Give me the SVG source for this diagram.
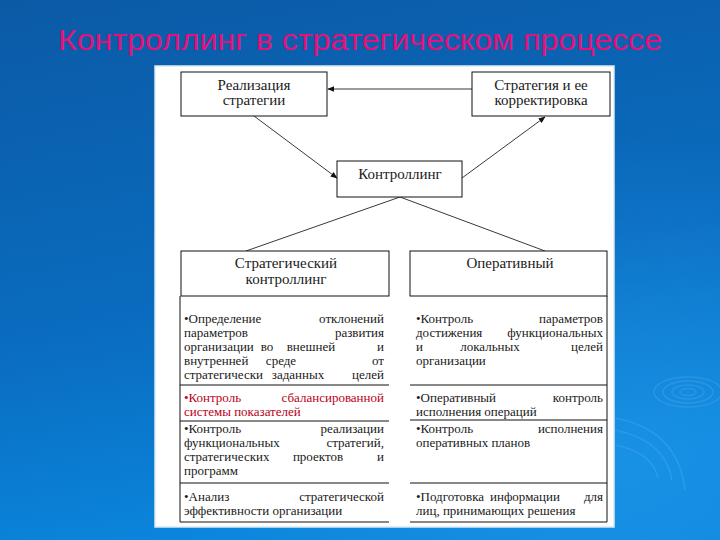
<svg xmlns="http://www.w3.org/2000/svg" width="720" height="540" viewBox="0 0 720 540">
<defs>
<linearGradient id="bg" x1="0" y1="0" x2="0.25" y2="1">
<stop offset="0" stop-color="#0b5aa6"/>
<stop offset="0.6" stop-color="#0a6cbf"/>
<stop offset="1" stop-color="#0a86dc"/>
</linearGradient>
<radialGradient id="glow" cx="0.85" cy="0.85" r="0.6">
<stop offset="0" stop-color="#2aa0f0" stop-opacity="0.45"/>
<stop offset="1" stop-color="#2aa0f0" stop-opacity="0"/>
</radialGradient>
<marker id="ah" viewBox="0 0 10 10" refX="9" refY="5" markerWidth="7" markerHeight="7" orient="auto" markerUnits="userSpaceOnUse">
<path d="M0,1 L10,5 L0,9 z" fill="#111"/>
</marker>
<style>
.box{fill:#fff;stroke:#111;stroke-width:1}
.ln{stroke:#111;stroke-width:1;fill:none}
.edge{stroke:#222;stroke-width:0.9;fill:none}
.lab{font-family:"Liberation Serif","DejaVu Serif","Times New Roman",serif;font-size:15px;fill:#1a1a1a;text-anchor:middle}
.t{font-family:"Liberation Serif","DejaVu Serif","Times New Roman",serif;font-size:13px;fill:#1a1a1a}
.e{text-anchor:end}
.m{text-anchor:middle}
.red{fill:#b80018}
.rip{fill:none;stroke:#8cc8ff;stroke-opacity:0.18;stroke-width:1.5}
</style>
</defs>
<rect width="720" height="540" fill="url(#bg)"/>
<rect width="720" height="540" fill="url(#glow)"/>
<g id="ripples">
<ellipse class="rip" cx="688" cy="392" rx="8" ry="3.5"/>
<ellipse class="rip" cx="688" cy="392" rx="16" ry="7"/>
<ellipse class="rip" cx="688" cy="392" rx="25" ry="11"/>
<ellipse class="rip" cx="688" cy="392" rx="34" ry="15"/>
<path class="rip" d="M615,430 Q665,440 672,480"/>
<path class="rip" d="M615,418 Q678,430 685,490"/>
<path class="rip" d="M615,445 Q652,452 658,478"/>
</g>
<text x="58" y="50" font-family="'Liberation Sans',Arial,sans-serif" font-size="30" fill="#e3127a" textLength="604" lengthAdjust="spacingAndGlyphs">Контроллинг в стратегическом процессе</text>
<rect x="155" y="66" width="459" height="461" fill="#fff" stroke="#dce9f2" stroke-width="1.5"/>

<g id="connectors">
<line class="edge" x1="472" y1="89" x2="328" y2="89" marker-end="url(#ah)"/>
<line class="edge" x1="254" y1="116" x2="337" y2="178" marker-end="url(#ah)"/>
<line class="edge" x1="462" y1="178" x2="545" y2="117" marker-end="url(#ah)"/>
<line class="edge" x1="400" y1="197" x2="246" y2="251"/>
<line class="edge" x1="400" y1="197" x2="545" y2="251"/>
</g>

<g id="node-realization">
<rect class="box" x="181" y="72" width="146" height="44"/>
<text class="lab" x="254" y="90">Реализация</text>
<text class="lab" x="254" y="105">стратегии</text>
</g>
<g id="node-strategy">
<rect class="box" x="472" y="72" width="138" height="44"/>
<text class="lab" x="541" y="90">Стратегия и ее</text>
<text class="lab" x="541" y="105">корректировка</text>
</g>
<g id="node-controlling">
<rect class="box" x="337" y="161" width="125" height="36"/>
<text class="lab" x="400" y="179">Контроллинг</text>
</g>

<g id="node-strategic">
<rect class="box" x="181" y="251" width="208" height="45"/>
<text class="lab" x="286" y="268">Стратегический</text>
<text class="lab" x="286" y="284">контроллинг</text>
<path class="ln" d="M180,296 V522 H389 M180,385 H389 M180,421 H389 M180,483 H389"/>
<text class="t" x="184" y="323">•Определение</text><text class="t e" x="384" y="323">отклонений</text>
<text class="t" x="184" y="337">параметров</text><text class="t e" x="384" y="337">развития</text>
<text class="t" x="184" y="351">организации</text><text class="t m" x="267" y="351">во</text><text class="t m" x="311" y="351">внешней</text><text class="t e" x="384" y="351">и</text>
<text class="t" x="184" y="365">внутренней</text><text class="t m" x="281" y="365">среде</text><text class="t e" x="384" y="365">от</text>
<text class="t" x="184" y="379">стратегически</text><text class="t m" x="298" y="379">заданных</text><text class="t e" x="384" y="379">целей</text>
<text class="t red" x="184" y="402">•Контроль</text><text class="t e red" x="384" y="402">сбалансированной</text>
<text class="t red" x="184" y="416">системы показателей</text>
<text class="t" x="184" y="433">•Контроль</text><text class="t e" x="384" y="433">реализации</text>
<text class="t" x="184" y="447">функциональных</text><text class="t e" x="384" y="447">стратегий,</text>
<text class="t" x="184" y="461">стратегических</text><text class="t m" x="318" y="461">проектов</text><text class="t e" x="384" y="461">и</text>
<text class="t" x="184" y="475">программ</text>
<text class="t" x="184" y="501">•Анализ</text><text class="t e" x="384" y="501">стратегической</text>
<text class="t" x="184" y="515">эффективности организации</text>
</g>

<g id="node-operative">
<rect class="box" x="410" y="251" width="197" height="45"/>
<text class="lab" x="510" y="268">Оперативный</text>
<path class="ln" d="M410,522 H607 V296 M410,385 H607 M410,420 H607 M410,483 H607"/>
<text class="t" x="416" y="323">•Контроль</text><text class="t e" x="603" y="323">параметров</text>
<text class="t" x="416" y="337">достижения</text><text class="t e" x="603" y="337">функциональных</text>
<text class="t" x="416" y="351">и</text><text class="t m" x="490" y="351">локальных</text><text class="t e" x="603" y="351">целей</text>
<text class="t" x="416" y="365">организации</text>
<text class="t" x="416" y="402">•Оперативный</text><text class="t e" x="603" y="402">контроль</text>
<text class="t" x="416" y="416">исполнения операций</text>
<text class="t" x="416" y="433">•Контроль</text><text class="t e" x="603" y="433">исполнения</text>
<text class="t" x="416" y="447">оперативных планов</text>
<text class="t" x="416" y="501">•Подготовка</text><text class="t m" x="525" y="501">информации</text><text class="t e" x="603" y="501">для</text>
<text class="t" x="416" y="515">лиц, принимающих решения</text>
</g>
</svg>
